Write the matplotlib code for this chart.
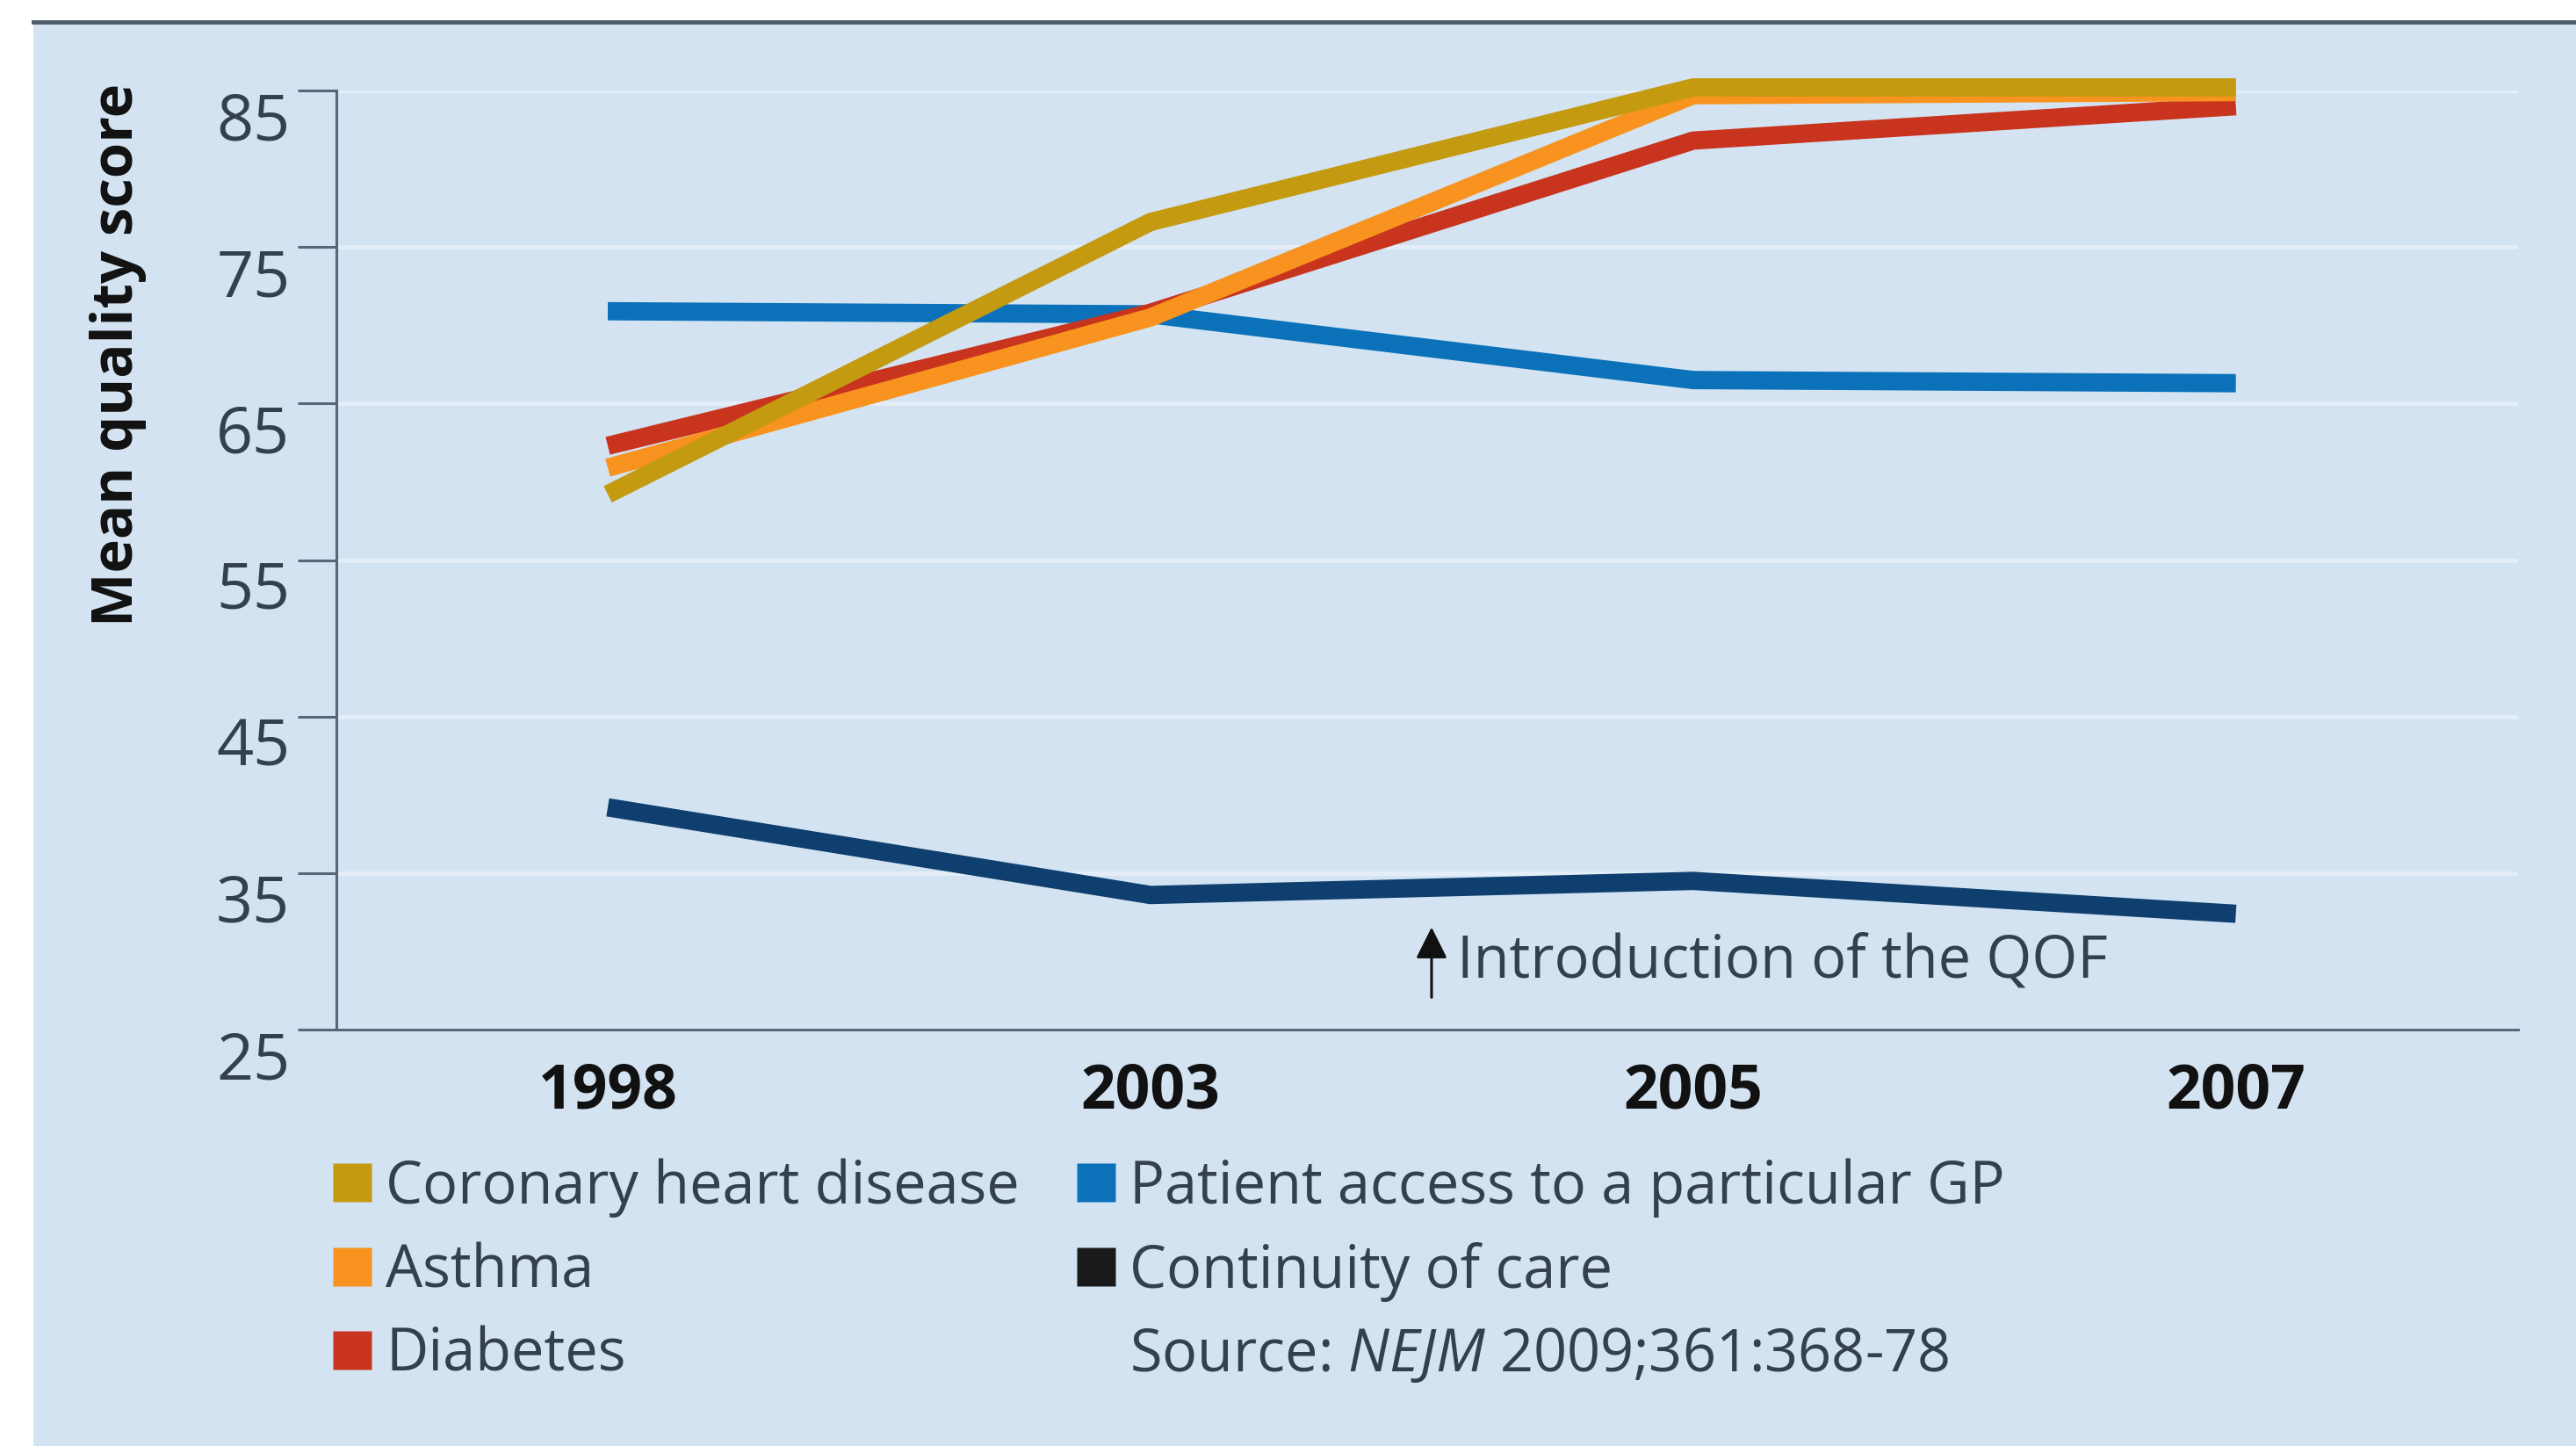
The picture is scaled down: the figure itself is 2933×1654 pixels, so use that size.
import matplotlib.pyplot as plt
from matplotlib.lines import Line2D
from matplotlib.patches import Rectangle

plt.rcParams['font.family'] = ['Open Sans', 'DejaVu Sans']
plt.rcParams['mathtext.fontset'] = 'custom'
plt.rcParams['mathtext.rm'] = 'Open Sans'
plt.rcParams['mathtext.it'] = 'Open Sans:italic'

# Data
years = ['1998', '2003', '2005', '2007']
chd = [59.2, 76.6, 85.2, 85.2]
asthma = [60.9, 70.5, 84.7, 84.9]
diabetes = [62.3, 70.8, 81.8, 84.0]
gp_access = [70.9, 70.7, 66.5, 66.3]
continuity = [39.2, 33.6, 34.5, 32.4]

series_names = ['Coronary heart disease', 'Asthma', 'Diabetes',
                'Patient access to a particular GP', 'Continuity of care']
yticks = [25, 35, 45, 55, 65, 75, 85]
source_text = r'Source: $\it{NEJM}$ 2009;361:368-78'
qof_label = 'Introduction of the QOF'

# colours
c_chd = '#C49A10'
c_asthma = '#F7931E'
c_diab = '#C8341E'
c_gp = '#0B72BA'
c_cont = '#0E3F6E'
bg = '#D3E3F2'
grid_col = '#E4EEF8'
axis_col = '#56677A'
text_col = '#34404C'

fig = plt.figure(figsize=(29.33, 16.54), dpi=100)
fig.patch.set_facecolor('white')

# light blue panel and dark top rule
fig.patches.append(Rectangle((38 / 2933, 0.005), 1, 1 - 28 / 1654 - 0.005,
                             transform=fig.transFigure, facecolor=bg,
                             edgecolor='none', zorder=-5))
fig.add_artist(Line2D([38 / 2933, 1], [1 - 25 / 1654, 1 - 25 / 1654],
                      transform=fig.transFigure, color='#4E5C68', lw=3.5))

ax = fig.add_axes([0.1306, 0.2914, 0.9775 - 0.1306, 0.9377 - 0.2914])
ax.set_facecolor('none')
ax.set_zorder(2)

x = range(len(years))
lw = 15
ax.plot(x, continuity, color=c_cont, lw=lw, solid_capstyle='butt', zorder=3)
ax.plot(x, gp_access, color=c_gp, lw=lw, solid_capstyle='butt', zorder=4)
ax.plot(x, diabetes, color=c_diab, lw=lw, solid_capstyle='butt', zorder=5, clip_on=False)
ax.plot(x, asthma, color=c_asthma, lw=lw, solid_capstyle='butt', zorder=6, clip_on=False)
ax.plot(x, chd, color=c_chd, lw=lw, solid_capstyle='butt', zorder=7, clip_on=False)

ax.set_xlim(-0.5, 3.52)
ax.set_ylim(25, 85)
ax.set_yticks(yticks)
ax.set_yticklabels([str(v) for v in yticks])
for lab in ax.get_yticklabels():
    lab.set_verticalalignment('top')
ax.set_xticks(list(x))
ax.set_xticklabels(years, fontsize=50, fontweight='bold', color='#111111')

ax.tick_params(axis='y', length=32, width=2.2, color=axis_col, labelsize=53,
               labelcolor=text_col, pad=6)
ax.tick_params(axis='x', length=0, pad=26)

for side in ['top', 'right']:
    ax.spines[side].set_visible(False)
for side in ['left', 'bottom']:
    ax.spines[side].set_color(axis_col)
    ax.spines[side].set_linewidth(2.2)

ax.grid(axis='y', color=grid_col, lw=3.6)
ax.set_axisbelow(True)

# annotation for the QOF
ax.annotate('', xy=(1.518, 31.7), xytext=(1.518, 26.9),
            arrowprops=dict(arrowstyle='-|>', color='#111111', lw=2.2,
                            mutation_scale=55))
ax.text(1.565, 29.35, qof_label, fontsize=48, color=text_col,
        va='center', ha='left')

fig.text(135 / 2933, 1 - 95 / 1654, 'Mean quality score', rotation=90,
         fontsize=47, fontweight='bold', color='#111111', ha='center', va='top')

# legend
handle_cols = [c_chd, c_asthma, c_diab, c_gp, '#1A1A1A']
handles = [Line2D([], [], marker='s', linestyle='none', markersize=31,
                  markerfacecolor=c, markeredgecolor='none') for c in handle_cols]
handles.append(Line2D([], [], linestyle='none'))
labels = series_names + [source_text]
leg = fig.legend(handles, labels, loc='upper left', ncol=2,
                 bbox_to_anchor=(378 / 2933, 1 - 1318 / 1654),
                 frameon=False, fontsize=48, handlelength=0.7,
                 handletextpad=0.22, columnspacing=0.95, labelspacing=0.42,
                 borderpad=0, borderaxespad=0)
for t in leg.get_texts():
    t.set_color(text_col)

fig.savefig('out.png', dpi=100, facecolor='white')
